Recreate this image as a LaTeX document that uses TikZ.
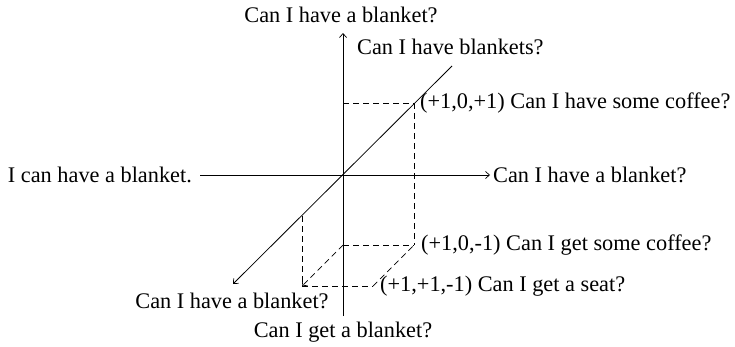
\documentclass[tikz,border=0pt]{standalone}
\usepackage{fontspec}
\setmainfont{Liberation Serif}
\usetikzlibrary{arrows.meta}
\begin{document}
\begin{tikzpicture}[x=1pt,y=-1pt,
  axis/.style={line width=0.8pt,-{Straight Barb[length=4pt,width=7pt,line width=0.7pt]}},
  plainaxis/.style={line width=0.8pt},
  guide/.style={line width=0.7pt,dash pattern=on 6pt off 4pt},
  guidearrow/.style={guide,-{Straight Barb[length=4pt,width=7pt,line width=0.6pt]}},
  lbl/.style={inner sep=0pt,font=\fontsize{22.3}{26}\selectfont}]
\useasboundingbox (0,0) rectangle (735,346);
% points
\coordinate (O) at (343,175);
\coordinate (vtop) at (343,33);
\coordinate (vbot) at (343,316);
\coordinate (hleft) at (200,175);
\coordinate (hright) at (490,175);
\coordinate (dtop) at (452,66);
\coordinate (dbot) at (233,284);
\coordinate (P1) at (414,103);
\coordinate (Z1) at (343,103);
\coordinate (P2) at (414,245);
\coordinate (A) at (343,245);
\coordinate (Q) at (302,216);
\coordinate (R) at (302,286);
\coordinate (S) at (373,286);
% labels
\node[lbl] (t1) at (341,15) {Can I have a blanket?};
\node[lbl,anchor=west] (t2) at (357,47) {Can I have blankets?};
\node[lbl,anchor=west] (l1) at (420,103) {(+1,0,+1) Can I have some coffee?};
\node[lbl,anchor=east] (lft) at (192,175) {I can have a blanket.};
\node[lbl,anchor=west] (rgt) at (493,175) {Can I have a blanket?};
\node[lbl,anchor=west] (l2) at (421,245) {(+1,0,-1) Can I get some coffee?};
\node[lbl,anchor=west] (l3) at (380,286) {(+1,+1,-1) Can I get a seat?};
\node[lbl] (b1) at (232,301) {Can I have a blanket?};
\node[lbl] (b2) at (343,332) {Can I get a blanket?};
% axes
\draw[axis] (vbot) -- (vtop);
\draw[axis] (hleft) -- (hright);
\draw[axis] (dtop) -- (dbot);
% guides
\draw[guide] (Z1) -- (P1);
\draw[guide] (P1) -- (P2);
\draw[guide] (A) -- (P2);
\draw[guidearrow] (A) -- (R);
\draw[guide] (Q) -- (R);
\draw[guide] (R) -- (S);
\draw[guide] (S) -- (P2);
\end{tikzpicture}
\end{document}
